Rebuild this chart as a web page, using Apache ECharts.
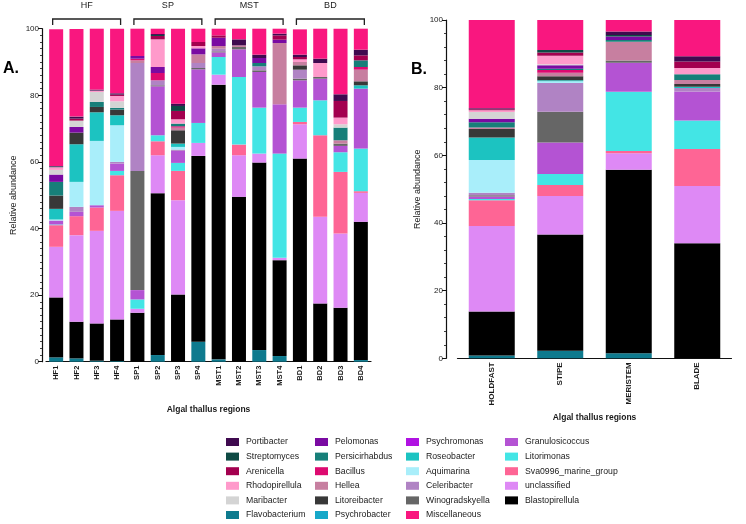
<!DOCTYPE html>
<html>
<head>
<meta charset="utf-8">
<script src="https://cdn.jsdelivr.net/npm/echarts@6/dist/echarts.min.js"></script>
<style>
html,body{margin:0;padding:0;background:#fff;}
#chart{width:746px;height:524px;}
</style>
</head>
<body>
<div id="chart"></div>
<script>
// ---------- categories ----------
const categoriesA = ['HF1','HF2','HF3','HF4','SP1','SP2','SP3','SP4','MST1','MST2','MST3','MST4','BD1','BD2','BD3','BD4'];
const categoriesB = ['HOLDFAST','STIPE','MERISTEM','BLADE'];
const yTicks = [0, 20, 40, 60, 80, 100];
const groupLabels = ['HF', 'SP', 'MST', 'BD'];
const groupFirst = [0, 4, 8, 12];
const groupLast = [3, 7, 11, 15];

// ---------- stacking order (bottom -> top) ----------
const taxa = ['Flavobacterium','Blastopirellula','unclassified','Sva0996_marine_group','Litorimonas','Granulosicoccus',
  'Winogradskyella','Celeribacter','Aquimarina','Roseobacter','Psychromonas','Psychrobacter','Litoreibacter','Hellea',
  'Bacillus','Persicirhabdus','Pelomonas','Maribacter','Rhodopirellula','Arenicella','Streptomyces','Portibacter','Miscellaneous'];

// ---------- legend columns ----------
const legendCol1 = ['Portibacter','Streptomyces','Arenicella','Rhodopirellula','Maribacter','Flavobacterium'];
const legendCol2 = ['Pelomonas','Persicirhabdus','Bacillus','Hellea','Litoreibacter','Psychrobacter'];
const legendCol3 = ['Psychromonas','Roseobacter','Aquimarina','Celeribacter','Winogradskyella','Miscellaneous'];
const legendCol4 = ['Granulosicoccus','Litorimonas','Sva0996_marine_group','unclassified','Blastopirellula'];

// ---------- panel A values (HF1..BD4) ----------
const flavobacteriumA   = [1.3, 1.0, 0.3, 0.2, 0,    2.0, 0,    6.0, 0.7, 0,    3.5, 1.7, 0,    0,    0,    0.5];
const blastopirellulaA  = [18,  11,  11.2,12.5,14.7, 48.6,20.2, 55.8,82.5,49.5, 56.3,28.8,61,   17.5, 16.2, 41.5];
const unclassifiedA     = [15.2,26,  27.8,32.6,1.2,  11.4,28.3, 3.9, 3.0, 12.5, 2.7, 0.7, 10.3, 26,   22.3, 8.7];
const sva0996A          = [6.5, 5.7, 7.0, 10.7,0,    4.2, 8.8,  0,   0,   3.2,  0,   0,   0.7,  24.5, 18.5, 0.5];
const litorimonasA      = [0.2, 0,   0,   1.3, 2.8,  1.8, 2.4,  6.0, 5.3, 20.3, 13.8,31.3,4.3,  10.5, 5.9,  12.8];
const granulosicoccusA  = [1.2, 1.3, 0.7, 2.2, 2.8,  14.7,3.6,  16.1,1.4, 8.3,  10.7,14.8,8.2,  6.5,  1.9,  18];
const winogradskyellaA  = [0,   0,   0,   0,   35.8, 0.3, 0,    0.4, 0.3, 0.7,  0.5, 0,   0.5,  0.5,  0.7,  0];
const celeribacterA     = [0,   1.5, 0,   0.5, 32.4, 1.5, 0.4,  1.5, 0.8, 0,    1.2, 0,   2.7,  0,    0,    0];
const aquimarinaA       = [0.3, 7.5, 19.3,11.0,0,    0,   0.8,  0,   0,   0,    0,   0,   0,    0,    0,    0];
const roseobacterA      = [3.2, 11.3,8.6, 3.0, 0,    0,   1.0,  0,   0,   0,    0,   0,   0,    0,    0,    1.0];
const psychromonasA     = [0,   0,   0,   0,   0,    0,   0,    0,   0,   0,    0,   0,   0,    0,    0,    0];
const psychrobacterA    = [0,   0,   0,   0,   0,    0,   0,    0,   0,   0,    0,   0,   0,    0,    0,    0];
const litoreibacterA    = [4.0, 3.5, 1.6, 1.7, 0,    0,   4.0,  0,   0,   0,    0,   0,   1.3,  0,    0,    1.2];
const helleaA           = [0,   0,   0,   0,   0.8,  0,   0.8,  2.6, 0.8, 0.5,  0,   18.4,1.0,  0,    1.0,  3.5];
const bacillusA         = [0,   0,   0,   0,   0.5,  2.2, 0.4,  0,   0,   0,    0,   0,   0,    0,    0,    0.8];
const persicirhabdusA   = [4.1, 0,   1.5, 0.5, 0,    0,   0.8,  0,   0,   0,    1.0, 0,   0,    0,    3.8,  2.0];
const pelomonasA        = [2.2, 1.7, 0,   0,   0.8,  1.8, 0,    1.8, 2.5, 0,    1.5, 1.0, 0,    0,    0,    0];
const maribacterA       = [1.4, 1.9, 3.0, 2.0, 0,    0,   0,    0,   0,   0,    0,   0,   0,    0,    1.0,  0];
const rhodopirellulaA   = [0.8, 0,   0.4, 1.6, 0,    8.3, 1.3,  0.7, 0,   0,    0,   0,   0.8,  4.2,  2.0,  0];
const arenicellaA       = [0,   0.6, 0,   0.4, 0,    1.0, 2.5,  1.2, 0.7, 0,    0,   1.3, 0.7,  0,    5.0,  1.5];
const streptomycesA     = [0.2, 0,   0,   0,   0,    0.3, 1.5,  0,   0,   0,    0,   0,   0,    0,    0,    0];
const portibacterA      = [0.2, 0.6, 0.3, 0.4, 0,    0.3, 0.7,  0,   0,   1.8,  1.0, 0.5, 0.7,  1.3,  2.0,  1.7];
const miscellaneousA    = [41,  26.3,18.3,19.4,8.2,  1.6, 22.5, 4.0, 2.0, 3.2,  7.8, 1.5, 7.6,  9.0,  19.7, 6.3];

// ---------- panel B values (HOLDFAST, STIPE, MERISTEM, BLADE) ----------
const flavobacteriumB   = [0.8, 2.2, 1.5, 0];
const blastopirellulaB  = [13.0,34.4,54.2,34.0];
const unclassifiedB     = [25.3,11.4,4.9, 16.9];
const sva0996B          = [7.6, 3.2, 0.7, 11.0];
const litorimonasB      = [0.4, 3.3, 17.5,8.4];
const granulosicoccusB  = [0.7, 9.3, 8.6, 8.6];
const winogradskyellaB  = [0.4, 9.1, 0.6, 0];
const celeribacterB     = [0.7, 8.5, 0,   1.0];
const aquimarinaB       = [9.7, 0.5, 0,   0];
const roseobacterB      = [6.7, 0.3, 0,   0.4];
const psychromonasB     = [0,   0,   0,   0];
const psychrobacterB    = [0,   0,   0,   0];
const litoreibacterB    = [2.5, 1.2, 0,   0.8];
const helleaB           = [0.4, 1.0, 5.6, 1.2];
const bacillusB         = [0,   0.8, 0,   0];
const persicirhabdusB   = [1.6, 0.4, 0.5, 1.7];
const pelomonasB        = [1.0, 1.0, 1.0, 0];
const maribacterB       = [2.0, 0.3, 0,   0];
const rhodopirellulaB   = [0.5, 2.5, 0,   1.8];
const arenicellaB       = [0.3, 1.0, 0,   1.9];
const streptomycesB     = [0,   0.7, 0.5, 0];
const portibacterB      = [0.3, 0,   1.0, 1.6];
const miscellaneousB    = [26.1,8.9, 3.4, 10.7];

// ---------- colours ----------
const colors = {
  Portibacter:'#3f0a4f', Streptomyces:'#0e4a44', Arenicella:'#a3004f', Rhodopirellula:'#ff9acb',
  Maribacter:'#d4d4d4', Flavobacterium:'#0e7a8e', Pelomonas:'#7a0aa2', Persicirhabdus:'#177f79',
  Bacillus:'#dd0a70', Hellea:'#c77fa0', Litoreibacter:'#383838', Psychrobacter:'#17a8c9',
  Psychromonas:'#b012e2', Roseobacter:'#1cc3c1', Aquimarina:'#a9eefa', Celeribacter:'#b083c4',
  Winogradskyella:'#666666', Miscellaneous:'#f9177f', Granulosicoccus:'#b453d3', Litorimonas:'#43e5e5',
  Sva0996_marine_group:'#fe6595', unclassified:'#de89f5', Blastopirellula:'#000000'
};

const dataA = {
  Flavobacterium:flavobacteriumA, Blastopirellula:blastopirellulaA, unclassified:unclassifiedA,
  Sva0996_marine_group:sva0996A, Litorimonas:litorimonasA, Granulosicoccus:granulosicoccusA,
  Winogradskyella:winogradskyellaA, Celeribacter:celeribacterA, Aquimarina:aquimarinaA,
  Roseobacter:roseobacterA, Psychromonas:psychromonasA, Psychrobacter:psychrobacterA,
  Litoreibacter:litoreibacterA, Hellea:helleaA, Bacillus:bacillusA, Persicirhabdus:persicirhabdusA,
  Pelomonas:pelomonasA, Maribacter:maribacterA, Rhodopirellula:rhodopirellulaA, Arenicella:arenicellaA,
  Streptomyces:streptomycesA, Portibacter:portibacterA, Miscellaneous:miscellaneousA
};
const dataB = {
  Flavobacterium:flavobacteriumB, Blastopirellula:blastopirellulaB, unclassified:unclassifiedB,
  Sva0996_marine_group:sva0996B, Litorimonas:litorimonasB, Granulosicoccus:granulosicoccusB,
  Winogradskyella:winogradskyellaB, Celeribacter:celeribacterB, Aquimarina:aquimarinaB,
  Roseobacter:roseobacterB, Psychromonas:psychromonasB, Psychrobacter:psychrobacterB,
  Litoreibacter:litoreibacterB, Hellea:helleaB, Bacillus:bacillusB, Persicirhabdus:persicirhabdusB,
  Pelomonas:pelomonasB, Maribacter:maribacterB, Rhodopirellula:rhodopirellulaB, Arenicella:arenicellaB,
  Streptomyces:streptomycesB, Portibacter:portibacterB, Miscellaneous:miscellaneousB
};

const FONT = '"Liberation Sans", Arial, sans-serif';
const TXT = '#1a1a1a';

const series = [];
taxa.forEach(function (t) {
  series.push({ name: t, type: 'bar', stack: 'A', xAxisIndex: 0, yAxisIndex: 0, barWidth: 14,
    itemStyle: { color: colors[t] }, data: dataA[t], animation: false });
});
taxa.forEach(function (t) {
  series.push({ name: t, type: 'bar', stack: 'B', xAxisIndex: 1, yAxisIndex: 1, barWidth: 46,
    itemStyle: { color: colors[t] }, data: dataB[t], animation: false });
});

function yAxisCfg(gridIndex, offset, minorSplit, nameGap) {
  return {
    type: 'value', gridIndex: gridIndex, min: yTicks[0], max: yTicks[yTicks.length - 1], interval: 20,
    offset: offset,
    name: 'Relative abundance', nameLocation: 'middle', nameGap: nameGap,
    nameTextStyle: { fontFamily: FONT, fontSize: 9, color: TXT },
    axisLine: { show: true, lineStyle: { color: '#111', width: 1.2 } },
    axisTick: { show: true, length: 4, lineStyle: { color: '#111', width: 1 } },
    minorTick: { show: true, splitNumber: minorSplit, length: 2, lineStyle: { color: '#111', width: 0.8 } },
    splitLine: { show: false },
    axisLabel: { fontFamily: FONT, fontSize: 8, color: TXT, margin: 3 }
  };
}
function legendCfg(list, left) {
  return {
    data: list, orient: 'vertical', left: left, top: 436, itemWidth: 13, itemHeight: 8, itemGap: 2.6,
    icon: 'rect', selectedMode: false,
    textStyle: { fontFamily: FONT, fontSize: 8.7, color: TXT, lineHeight: 12, padding: [0, 0, 0, 2] },
    padding: 0
  };
}

const chart = echarts.init(document.getElementById('chart'), null, { renderer: 'canvas' });
chart.setOption({
  animation: false,
  backgroundColor: '#fff',
  grid: [
    { left: 46, top: 28.7, width: 325, height: 333 },
    { left: 457.5, top: 20, width: 274, height: 338.3 }
  ],
  xAxis: [
    { type: 'category', gridIndex: 0, data: categoriesA,
      name: 'Algal thallus regions', nameLocation: 'middle', nameGap: 43,
      nameTextStyle: { fontFamily: FONT, fontSize: 8.5, fontWeight: 'bold', color: TXT },
      axisLine: { lineStyle: { color: '#111', width: 1.2 } },
      axisTick: { alignWithLabel: true, length: 3, lineStyle: { color: '#111' } },
      axisLabel: { rotate: 90, fontFamily: FONT, fontSize: 7.5, fontWeight: 'bold', color: TXT, margin: 4 } },
    { type: 'category', gridIndex: 1, data: categoriesB,
      name: 'Algal thallus regions', nameLocation: 'middle', nameGap: 52,
      nameTextStyle: { fontFamily: FONT, fontSize: 8.5, fontWeight: 'bold', color: TXT },
      axisLine: { lineStyle: { color: '#111', width: 1.2 } },
      axisTick: { alignWithLabel: true, length: 3, lineStyle: { color: '#111' } },
      axisLabel: { rotate: 90, fontFamily: FONT, fontSize: 8, fontWeight: 'bold', color: TXT, margin: 4 } }
  ],
  yAxis: [ yAxisCfg(0, 4, 10, 24), yAxisCfg(1, 11.5, 5, 24) ],
  legend: [ legendCfg(legendCol1, 226), legendCfg(legendCol2, 315), legendCfg(legendCol3, 406), legendCfg(legendCol4, 505) ],
  series: series
});

// ---------- annotations: panel letters, group brackets ----------
const graphics = [
  { type: 'text', left: 3, top: 61, style: { text: 'A.', font: 'bold 16px ' + FONT, fill: '#000' } },
  { type: 'text', left: 411, top: 62, style: { text: 'B.', font: 'bold 16px ' + FONT, fill: '#000' } }
];
groupLabels.forEach(function (lab, i) {
  const x1 = chart.convertToPixel({ xAxisIndex: 0 }, categoriesA[groupFirst[i]]) - 3.5;
  const x2 = chart.convertToPixel({ xAxisIndex: 0 }, categoriesA[groupLast[i]]) + 3.5;
  graphics.push({ type: 'polyline', shape: { points: [[x1, 25], [x1, 19], [x2, 19], [x2, 25]] },
    style: { stroke: '#222', lineWidth: 1.3, fill: null } });
  graphics.push({ type: 'text', x: (x1 + x2) / 2, y: 6,
    style: { text: lab, font: '9px ' + FONT, fill: TXT, textAlign: 'center', textVerticalAlign: 'middle' } });
});
chart.setOption({ graphic: graphics });
</script>
</body>
</html>
